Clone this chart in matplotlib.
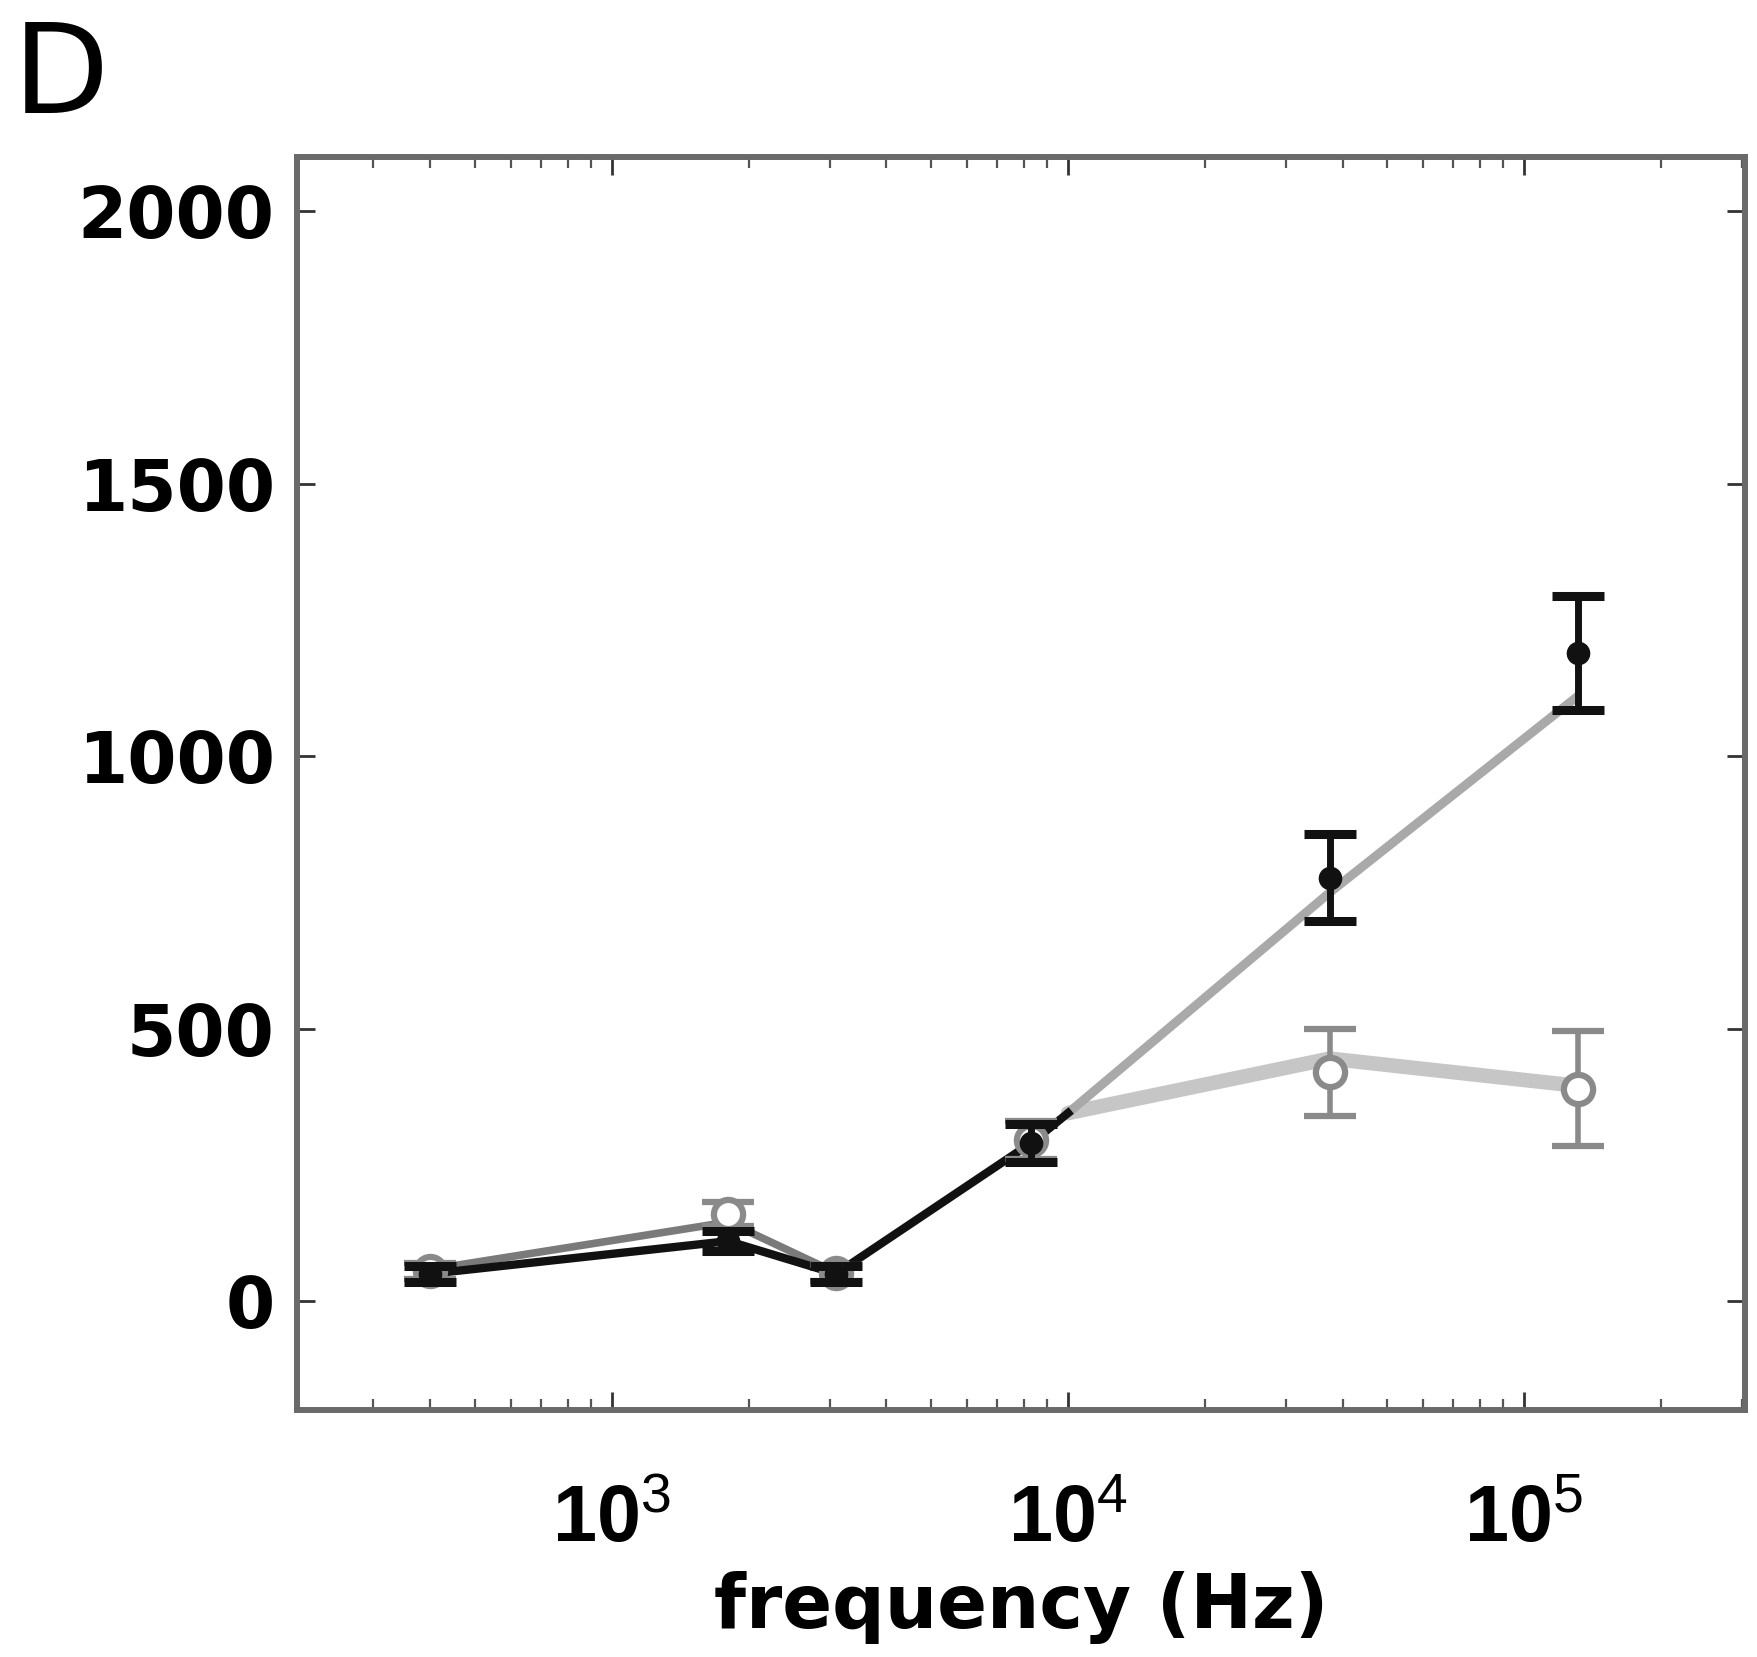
import matplotlib
matplotlib.use("Agg")
import matplotlib.pyplot as plt
from matplotlib import font_manager
from matplotlib.ticker import LogLocator, FixedLocator, NullFormatter

# Measured response at each stimulation frequency
freq_hz = [400, 1800, 3100, 8300, 37500, 131000]
filled_vals = [50, 110, 50, 290, 777, 1189]
filled_err = [15, 18, 15, 35, 80, 105]
open_vals = [55, 160, 52, 295, 420, 390]
open_err = [15, 22, 15, 35, 80, 105]

# Connecting curves
low_line_freq = [400, 1800, 3100, 8300, 10000]
low_line_vals = [50, 110, 50, 290, 345]
low_gray_freq = [400, 1800, 3100]
low_gray_vals = [58, 145, 52]
upper_freq = [10000, 37500, 131000]
upper_vals = [345, 750, 1110]
lower_freq = [10000, 37500, 131000]
lower_vals = [345, 445, 395]

y_ticks = [0, 500, 1000, 1500, 2000]
x_ticks = [1e3, 1e4, 1e5]
x_tick_labels = [r"$\mathbf{10}^{3}$", r"$\mathbf{10}^{4}$", r"$\mathbf{10}^{5}$"]

names = {f.name for f in font_manager.fontManager.ttflist}
narrow = "Liberation Sans Narrow" if "Liberation Sans Narrow" in names else "Liberation Sans"
plt.rcParams["mathtext.fontset"] = "custom"
plt.rcParams["mathtext.rm"] = narrow
plt.rcParams["mathtext.bf"] = narrow + ":bold"
plt.rcParams["mathtext.it"] = narrow + ":italic"

W, H = 1757, 1657
fig = plt.figure(figsize=(W / 100, H / 100), dpi=100)
ax = fig.add_axes([297 / W, 1 - 1410 / H, (1745 - 297) / W, (1410 - 157) / H])

spine_col = "#6a6a6a"
dark = "#111111"
gray = "#8a8a8a"

# curves
ax.plot(lower_freq, lower_vals, color="#c6c6c6", lw=10.5, solid_capstyle="round", zorder=1)
ax.plot(upper_freq, upper_vals, color="#a9a9a9", lw=6.5, solid_capstyle="round", zorder=1.2)
ax.plot(low_gray_freq, low_gray_vals, color="#7a7a7a", lw=5.5, zorder=1.4)
ax.plot(low_line_freq, low_line_vals, color=dark, lw=6, zorder=1.6)

# open-circle series
ax.errorbar(freq_hz, open_vals, yerr=open_err, fmt="o", ms=21, mfc="white",
            mec=gray, mew=4.5, ecolor=gray, elinewidth=4, capsize=19,
            capthick=5, zorder=2)
# filled series
ax.errorbar(freq_hz, filled_vals, yerr=filled_err, fmt="o", ms=16, mfc=dark,
            mec=dark, ecolor=dark, elinewidth=5, capsize=19, capthick=6.5,
            zorder=3)

ax.set_xscale("log")
ax.set_xlim(204, 3.05e5)
ax.set_ylim(-200, 2100)

ax.xaxis.set_major_locator(FixedLocator(x_ticks))
ax.set_xticklabels(x_tick_labels)
ax.xaxis.set_minor_locator(LogLocator(base=10, subs=range(2, 10)))
ax.xaxis.set_minor_formatter(NullFormatter())
ax.set_yticks(y_ticks)
ax.set_yticklabels([str(v) for v in y_ticks])

for s in ax.spines.values():
    s.set_color(spine_col)
    s.set_linewidth(4.3)

ax.tick_params(axis="both", which="major", direction="in", length=13, width=2,
               color="#333333", top=True, right=True)
ax.tick_params(axis="x", which="minor", direction="in", length=8, width=1.6,
               color="#555555", top=True)
ax.tick_params(axis="y", which="major", labelsize=51, pad=16)
ax.tick_params(axis="x", which="major", labelsize=57, pad=52)
for lab in ax.get_yticklabels():
    lab.set_fontweight("bold")
    lab.set_family("DejaVu Sans")

ax.set_xlabel("frequency (Hz)", fontsize=53, fontweight="bold",
              family="DejaVu Sans", labelpad=9)

fig.text(0.007, 1 - 18 / H, "D", fontsize=90, family="DejaVu Sans",
         ha="left", va="top")

fig.savefig("out.png", dpi=100, facecolor="white")
